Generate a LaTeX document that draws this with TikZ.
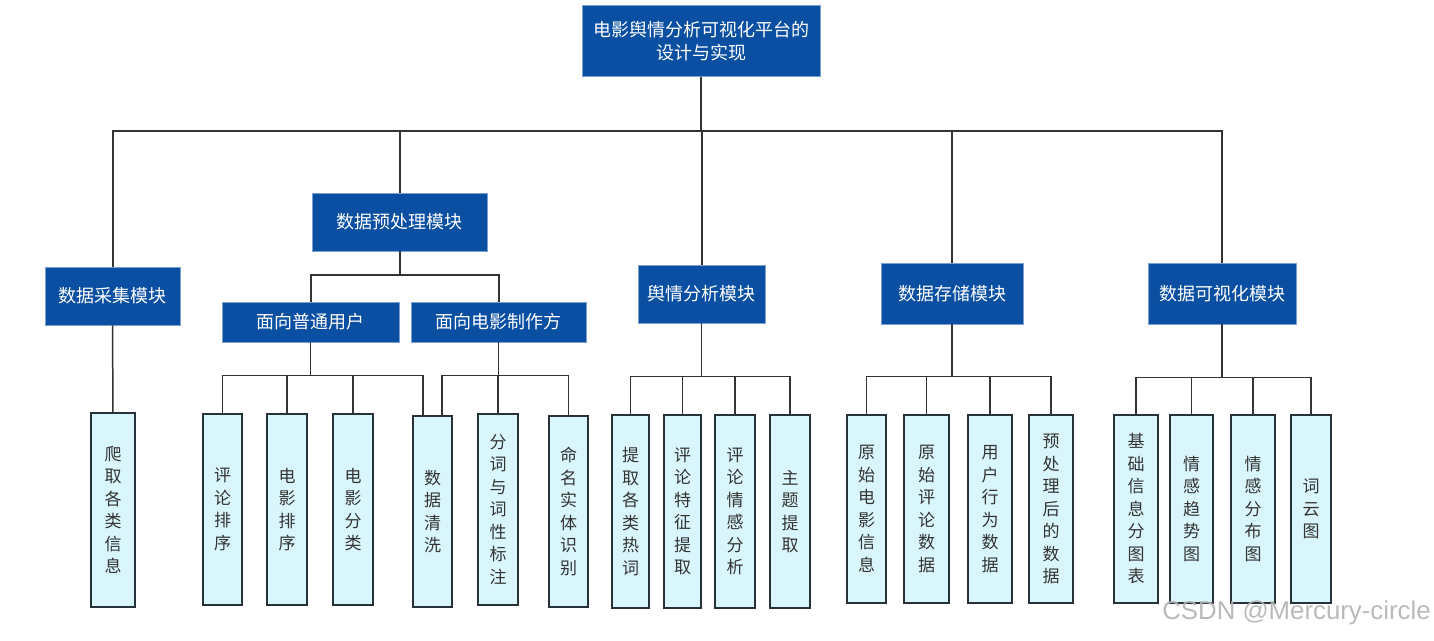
\documentclass[tikz,border=0pt]{standalone}
\usepackage{fontspec}
\setmainfont{Noto Sans CJK SC}
\newfontfamily\wmfont{Liberation Sans}

\definecolor{boxblue}{HTML}{0A4FA2}
\definecolor{boxedge}{HTML}{7A9FD0}
\definecolor{leaffill}{HTML}{DAF6FD}
\definecolor{leafedge}{HTML}{263238}
\definecolor{linegray}{HTML}{333333}
\definecolor{leaftext}{HTML}{333333}

\tikzset{
	module/.style={draw=boxedge, fill=boxblue, line width=0.6pt, text=white,
		inner sep=0pt, align=center, font=\fontsize{18}{23}\selectfont},
	leaf/.style={draw=leafedge, fill=leaffill, line width=1.3pt, text=leaftext,
		inner sep=0pt, align=center, font=\fontsize{17}{22.5}\selectfont},
	conn/.style={draw=linegray, line width=1.5pt},
	trunk/.style={conn, line width=2pt}
}

\begin{document}
\begin{tikzpicture}[x=1pt, y=-1pt]
	\useasboundingbox (0,0) rectangle (1434,640);

	\node[module, minimum width=238pt, minimum height=71pt] (root) at (701,41)
		{电影舆情分析可视化平台的\\设计与实现};

	\node[module, minimum width=135pt, minimum height=58pt] (cj) at (112.5,296) {数据采集模块};
	\node[module, minimum width=175pt, minimum height=58pt] (ycl) at (399.5,222) {数据预处理模块};
	\node[module, minimum width=127pt, minimum height=58pt] (yq) at (701.5,294) {舆情分析模块};
	\node[module, minimum width=142pt, minimum height=61pt] (cc) at (952,293.5) {数据存储模块};
	\node[module, minimum width=148pt, minimum height=61pt] (ksh) at (1222,293.5) {数据可视化模块};

	\node[module, minimum width=177pt, minimum height=40pt] (pt) at (310.5,322) {面向普通用户};
	\node[module, minimum width=175pt, minimum height=40pt] (zz) at (498.5,322) {面向电影制作方};

	\node[leaf, minimum width=44pt, minimum height=194pt] (pa) at (113,510) {爬\\取\\各\\类\\信\\息};

	\node[leaf, minimum width=39pt, minimum height=191pt] (pl) at (222.5,509.5) {评\\论\\排\\序};
	\node[leaf, minimum width=40pt, minimum height=191pt] (dp) at (287,509.5) {电\\影\\排\\序};
	\node[leaf, minimum width=40pt, minimum height=191pt] (fl) at (353,509.5) {电\\影\\分\\类};
	\node[leaf, minimum width=39pt, minimum height=191pt] (qx) at (432.5,511.5) {数\\据\\清\\洗};
	\node[leaf, minimum width=40pt, minimum height=191pt] (fc) at (498,509.5) {分\\词\\与\\词\\性\\标\\注};
	\node[leaf, minimum width=39pt, minimum height=191pt] (mm) at (568.5,511.5) {命\\名\\实\\体\\识\\别};

	\node[leaf, minimum width=37pt, minimum height=193pt] (rc) at (630.5,511.5) {提\\取\\各\\类\\热\\词};
	\node[leaf, minimum width=37pt, minimum height=193pt] (tz) at (682.5,511.5) {评\\论\\特\\征\\提\\取};
	\node[leaf, minimum width=40pt, minimum height=193pt] (qg) at (735,511.5) {评\\论\\情\\感\\分\\析};
	\node[leaf, minimum width=40pt, minimum height=193pt] (zt) at (790,511.5) {主\\题\\提\\取};

	\node[leaf, minimum width=39pt, minimum height=188pt] (dy) at (866.5,509) {原\\始\\电\\影\\信\\息};
	\node[leaf, minimum width=45pt, minimum height=188pt] (pn) at (926.5,509) {原\\始\\评\\论\\数\\据};
	\node[leaf, minimum width=44pt, minimum height=188pt] (xw) at (990,509) {用\\户\\行\\为\\数\\据};
	\node[leaf, minimum width=44pt, minimum height=188pt] (yc) at (1051,509) {预\\处\\理\\后\\的\\数\\据};

	\node[leaf, minimum width=44pt, minimum height=188pt] (jc) at (1136,509) {基\\础\\信\\息\\分\\图\\表};
	\node[leaf, minimum width=43pt, minimum height=188pt] (qs) at (1191.5,509) {情\\感\\趋\\势\\图};
	\node[leaf, minimum width=44pt, minimum height=188pt] (fb) at (1253,509) {情\\感\\分\\布\\图};
	\node[leaf, minimum width=40pt, minimum height=188pt] (cy) at (1311,509) {词\\云\\图};

	\foreach \m in {cj,ycl,yq,cc,ksh}
		\draw
			[trunk] (root.south) -- ++(0,54.5) -| (\m.north);

	\foreach \m in {pt,zz}
		\draw
			[trunk] (ycl.south) -- ++(0,24) -| (\m.north);

	\draw
		[conn] (cj.south) -- (pa.north);

	\foreach \m in {pl,dp,fl}
		\draw
			[conn] (pt.south) -- ++(0,33) -| (\m.north);
	\draw
		[conn] (pt.south) -- ++(0,33) -| ([xshift=-9.5pt]qx.north);

	\draw
		[conn] (zz.south) -- ++(0,33) -| ([xshift=9.5pt]qx.north);
	\foreach \m in {fc,mm}
		\draw
			[conn] (zz.south) -- ++(0,33) -| (\m.north);

	\foreach \m in {rc,tz,qg,zt}
		\draw
			[conn] (yq.south) -- ++(0,53) -| (\m.north);

	\foreach \m in {dy,pn,xw,yc}
		\draw
			[conn] (cc.south) -- ++(0,52) -| (\m.north);

	\foreach \m in {jc,qs,fb,cy}
		\draw
			[conn] (ksh.south) -- ++(0,53) -| (\m.north);

	\node[font=\wmfont\fontsize{25.8}{26}\selectfont, text=gray!60, opacity=0.9] (wm)
		at (1296.5,613) {CSDN @Mercury-circle};
\end{tikzpicture}
\end{document}
